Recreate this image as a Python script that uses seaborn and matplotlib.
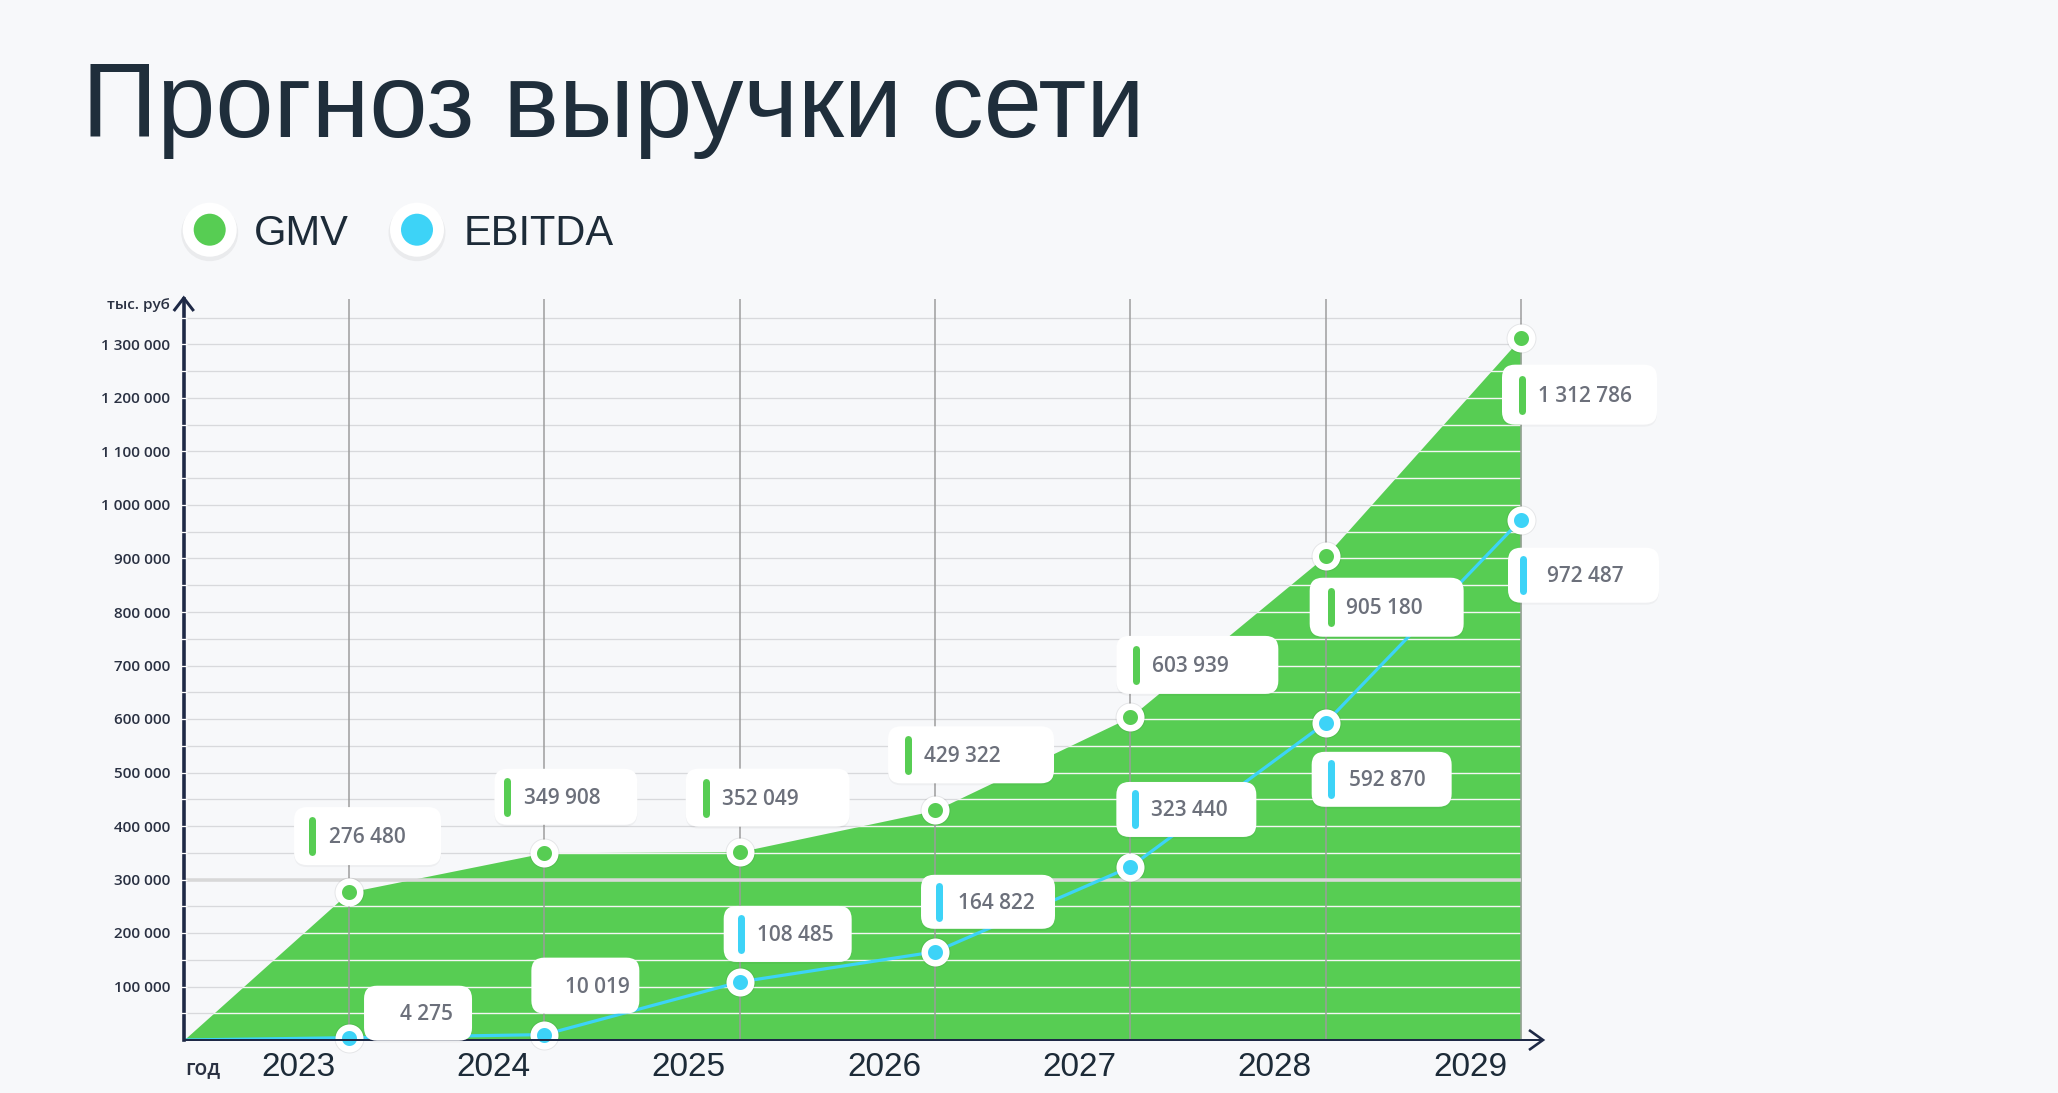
import numpy as np
import pandas as pd
import matplotlib
matplotlib.use("Agg")
import matplotlib.pyplot as plt
import seaborn as sns
from matplotlib.patches import FancyBboxPatch, Circle
from matplotlib.lines import Line2D
from matplotlib.transforms import IdentityTransform

# ---------------- data ----------------
years = [2023, 2024, 2025, 2026, 2027, 2028, 2029]
gmv = [276480, 349908, 352049, 429322, 603939, 905180, 1312786]
ebitda = [4275, 10019, 108485, 164822, 323440, 592870, 972487]
gmv_labels = ["276 480", "349 908", "352 049", "429 322", "603 939", "905 180", "1 312 786"]
ebitda_labels = ["4 275", "10 019", "108 485", "164 822", "323 440", "592 870", "972 487"]
series_names = ["GMV", "EBITDA"]
ytick_values = [100000, 200000, 300000, 400000, 500000, 600000, 700000,
                800000, 900000, 1000000, 1100000, 1200000, 1300000]
ytick_labels = ["100 000", "200 000", "300 000", "400 000", "500 000", "600 000", "700 000",
                "800 000", "900 000", "1 000 000", "1 100 000", "1 200 000", "1 300 000"]
title_text = "Прогноз выручки сети"
y_unit = "тыс. руб"
x_unit = "год"

# ---------------- style ----------------
GREEN = "#57CD53"
CYAN = "#3DD3F7"
BG = "#F7F8FA"
NAVY = "#1E2946"
DARK = "#1D2B38"
LABEL_GREY = "#6C707B"

W, H, DPI = 2058, 1093, 100
sns.set_theme(style="white")
plt.rcParams["font.family"] = ["Liberation Sans", "DejaVu Sans"]

fig = plt.figure(figsize=(W / DPI, H / DPI), dpi=DPI, facecolor=BG)

# axes geometry in image pixels
AX_L, AX_R, AX_B, AX_T = 183.75, 1542.0, 1040.0, 299.0
ax = fig.add_axes([AX_L / W, (H - AX_B) / H, (AX_R - AX_L) / W, (AX_B - AX_T) / H])
ax.set_facecolor(BG)

px_per_year = 195.3
x0 = years[0] - (349 - AX_L) / px_per_year
x1 = years[-1] + (AX_R - 1521) / px_per_year
y_top = (AX_B - AX_T) / 0.535 * 1000
ax.set_xlim(x0, x1)
ax.set_ylim(0, y_top)

def px(v):
    return v * 72 / DPI

# grid (gray, under fill)
grid_y = np.arange(50000, y_top, 50000)
ax.hlines(grid_y, x0, years[-1], color="#D8D9DC", lw=px(1.3), zorder=1)

# GMV area
xs_area = [x0] + years
ys_area = [0] + gmv
poly = ax.fill_between(xs_area, 0, ys_area, color=GREEN, lw=0, zorder=2)

# white grid lines on top of the green area
wl = ax.hlines(grid_y, x0, years[-1], color="#F4F6F4", lw=px(1.4), zorder=3)
wl.set_clip_path(poly.get_paths()[0], ax.transData)

# vertical year lines
ax.vlines(years, 0, y_top, color="#9C9C9C", lw=px(1.5), zorder=3.5)
# thicker line at 300 000
ax.hlines([300000], x0, years[-1], color="#D8D8D8", lw=px(3.5), zorder=3.6)

# white notches across the y axis line
notch = 3.0 / px_per_year
ax.hlines(grid_y, x0 - notch, x0 + notch, color="white", lw=px(1.3),
          zorder=6.5, clip_on=False)

# EBITDA line
df_e = pd.DataFrame({"x": [x0] + years, "y": [0] + ebitda})
sns.lineplot(data=df_e, x="x", y="y", ax=ax, color=CYAN, lw=px(3.2),
             sort=False, estimator=None, zorder=4)

# markers
df_g = pd.DataFrame({"x": years, "y": gmv})
df_m = pd.DataFrame({"x": years, "y": ebitda})
for d, c in ((df_g, GREEN), (df_m, CYAN)):
    sns.scatterplot(data=d, x="x", y="y", ax=ax, s=px(30) ** 2, color="#000000",
                    alpha=0.07, linewidth=0, zorder=4.8, clip_on=False, legend=False)
    sns.scatterplot(data=d, x="x", y="y", ax=ax, s=px(21.5) ** 2, color=c,
                    edgecolor="white", linewidth=px(6.5), zorder=5,
                    clip_on=False, legend=False)

# axes styling
for s in ("top", "right"):
    ax.spines[s].set_visible(False)
ax.spines["left"].set_color(NAVY)
ax.spines["left"].set_linewidth(px(3.6))
ax.spines["bottom"].set_color(NAVY)
ax.spines["bottom"].set_linewidth(px(2.0))
ax.spines["left"].set_zorder(6)
ax.spines["bottom"].set_zorder(6)

year_shift = -51 / px_per_year
ax.set_xticks([y + year_shift for y in years])
ax.set_xticklabels([str(y) for y in years], fontsize=24, color=DARK,
                   family=["Liberation Sans", "DejaVu Sans"])
ax.set_yticks(ytick_values)
ax.set_yticklabels(ytick_labels, fontsize=11, color="#2A3142",
                   family=["Open Sans", "DejaVu Sans"], fontweight="semibold")
ax.tick_params(axis="x", length=0, pad=px(12))
ax.tick_params(axis="y", length=0, pad=px(13.5))
ax.set_xlabel("")
ax.set_ylabel("")
ax.grid(False)

ident = IdentityTransform()

# axis arrows
ax_arrow_y = Line2D([AX_L - 10, AX_L, AX_L + 10], [H - 311, H - 298, H - 311],
                    transform=ident, color=NAVY, lw=px(3.0),
                    solid_joinstyle="miter", solid_capstyle="butt", zorder=7)
ax_arrow_x = Line2D([AX_R - 13, AX_R + 1, AX_R - 13], [H - AX_B + 10, H - AX_B, H - AX_B - 10],
                    transform=ident, color=NAVY, lw=px(2.6),
                    solid_joinstyle="miter", solid_capstyle="butt", zorder=7)
fig.add_artist(ax_arrow_y)
fig.add_artist(ax_arrow_x)

# unit labels
fig.text(170, H - 305, y_unit, transform=ident, ha="right", va="center",
         fontsize=11, color="#2A3142", family=["Open Sans", "DejaVu Sans"],
         fontweight="semibold")
fig.text(185, H - 1074, x_unit, transform=ident, ha="left", va="baseline",
         fontsize=15, color="#2A3142", family=["Open Sans", "DejaVu Sans"],
         fontweight="semibold")

# title
fig.text(82, H - 137.3, title_text, transform=ident, ha="left", va="baseline",
         fontsize=75.3, color="#1F2E3B", family=["Liberation Sans", "DejaVu Sans"])

# legend
legend_pos = [(209.7, 254.0), (417.0, 463.3)]
for (cx, tx), name, col in zip(legend_pos, series_names, [GREEN, CYAN]):
    cy = H - 229.7
    fig.add_artist(Circle((cx, cy - 3), 28.5, transform=ident, color="#000000",
                          alpha=0.05, lw=0, zorder=5))
    fig.add_artist(Circle((cx, cy), 27, transform=ident, color="white", lw=0, zorder=6))
    fig.add_artist(Circle((cx, cy), 16, transform=ident, color=col, lw=0, zorder=7))
    fig.text(tx, H - 244.7, name, transform=ident, ha="left", va="baseline",
             fontsize=30, color=DARK, family=["Liberation Sans", "DejaVu Sans"], zorder=7)

# value label boxes: (left, right, top, bottom, bar_dx, text_dx) relative to point, image px
gmv_box_layout = [(-55, 92, -85, -27, -37, -20),
                  (-50, 93, -84, -28, -37, -20),
                  (-54, 110, -83, -25, -34, -18),
                  (-47, 119, -84, -27, -27, -11),
                  (-14, 148, -81, -23, 6, 22),
                  (-16, 138, 22, 81, 5, 20),
                  (-19, 136, 27, 87, 1, 17)]
ebitda_box_layout = [(15, 123, -52, 3, None, 51),
                     (-13, 95, -77, -21, None, 21),
                     (-16, 112, -76, -20, 1, 17),
                     (-14, 120, -77, -23, 4, 23),
                     (-14, 126, -85, -30, 5, 21),
                     (-14, 126, 29, 84, 5, 23),
                     (-13, 138, 28, 83, 2, 26)]

fig.canvas.draw()

def draw_boxes(xv, yv, labels, layout, col):
    for x, y, lab, (L, R, T, B, bdx, tdx) in zip(xv, yv, labels, layout):
        dx, dy = ax.transData.transform((x, y))
        left = dx + L
        bottom = dy - B
        wbox = R - L
        hbox = B - T
        cy = dy - (T + B) / 2
        fig.add_artist(FancyBboxPatch((left, bottom - 2), wbox, hbox,
                                      boxstyle="round,pad=0,rounding_size=13",
                                      transform=ident, fc="#000000", ec="none",
                                      alpha=0.035, zorder=8))
        fig.add_artist(FancyBboxPatch((left, bottom), wbox, hbox,
                                      boxstyle="round,pad=0,rounding_size=13",
                                      transform=ident, fc="white", ec="none", zorder=9))
        if bdx is not None:
            fig.add_artist(Line2D([dx + bdx, dx + bdx], [cy - 16, cy + 16],
                                  transform=ident, color=col, lw=px(7),
                                  solid_capstyle="round", zorder=10))
        fig.text(dx + tdx, cy - 7, lab, transform=ident, ha="left", va="baseline",
                 fontsize=15, color=LABEL_GREY, family=["Open Sans", "DejaVu Sans"],
                 fontweight="semibold", zorder=10)

draw_boxes(years, gmv, gmv_labels, gmv_box_layout, GREEN)
draw_boxes(years, ebitda, ebitda_labels, ebitda_box_layout, CYAN)

fig.savefig("out.png", dpi=DPI, facecolor=BG)
